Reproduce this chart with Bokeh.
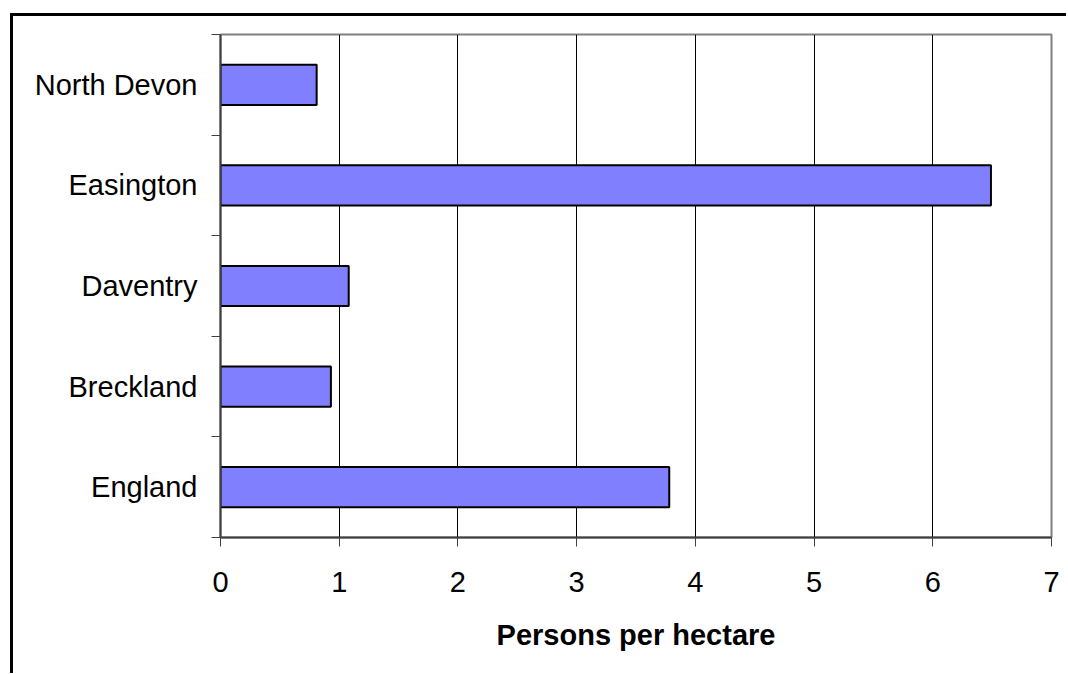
from bokeh.plotting import figure
from bokeh.models import Range1d, FixedTicker
from bokeh.embed import file_html
from bokeh.resources import INLINE

categories = ["North Devon", "Easington", "Daventry", "Breckland", "England"]
values = [0.81, 6.49, 1.08, 0.93, 3.78]
x_ticks = [0, 1, 2, 3, 4, 5, 6, 7]

n = len(categories)
ypos = [n - i - 0.5 for i in range(n)]

p = figure(width=1056, height=660, output_backend="svg", toolbar_location=None,
           x_range=Range1d(0, 7), y_range=Range1d(0, n),
           min_border_left=207, min_border_top=18, min_border_right=18,
           min_border_bottom=139)
p.styles = {"border-top": "3px solid black", "border-left": "3px solid black",
            "margin-top": "13px", "margin-left": "10px",
            "padding-bottom": "5px"}
p.background_fill_color = "white"
p.border_fill_color = "white"
p.outline_line_color = "#808080"
p.outline_line_width = 2

p.hbar(y=ypos, right=values, left=0, height=0.4, fill_color="#8080FF",
       line_color="black", line_width=2)

font = "Liberation Sans"
xt = FixedTicker(ticks=x_ticks)
p.xaxis.ticker = xt
p.xgrid.ticker = xt
p.xgrid.grid_line_color = "black"
p.xgrid.grid_line_width = 1
p.ygrid.grid_line_color = None

xa = p.xaxis[0]
xa.axis_line_color = "#404040"
xa.axis_line_width = 2
xa.major_tick_line_color = "#404040"
xa.major_tick_line_width = 1
xa.major_tick_out = 9
xa.major_tick_in = 0
xa.minor_tick_line_color = None
xa.major_label_text_font = font
xa.major_label_text_font_size = "29px"
xa.major_label_text_color = "black"
xa.major_label_standoff = 25
xa.axis_label = "Persons per hectare"
xa.axis_label_text_font = font
xa.axis_label_text_font_size = "29px"
xa.axis_label_text_font_style = "bold"
xa.axis_label_text_color = "black"
xa.axis_label_standoff = 24

ya = p.yaxis[0]
ya.ticker = FixedTicker(ticks=ypos, minor_ticks=list(range(n + 1)))
ya.major_label_overrides = {y: c for y, c in zip(ypos, categories)}
ya.axis_line_color = "#404040"
ya.axis_line_width = 2
ya.major_tick_line_color = None
ya.major_tick_out = 0
ya.major_tick_in = 0
ya.minor_tick_line_color = "#404040"
ya.minor_tick_line_width = 1
ya.minor_tick_out = 9
ya.minor_tick_in = 0
ya.major_label_text_font = font
ya.major_label_text_font_size = "29px"
ya.major_label_text_color = "black"
ya.major_label_standoff = 14

open("out.html", "w").write(file_html(p, INLINE))
